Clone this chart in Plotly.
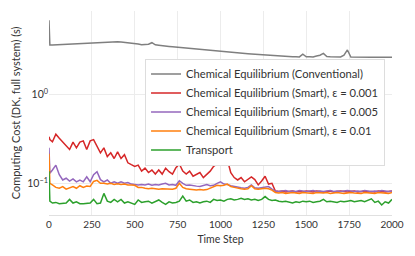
import plotly.graph_objects as go

STEPS = [0, 5, 20, 40, 60, 80, 100, 120, 140, 160, 180, 200, 220, 240, 260, 280, 300,
         320, 340, 360, 380, 400, 420, 440, 460, 480, 500, 520, 540, 560, 580, 600,
         620, 640, 660, 680, 700, 720, 740, 760, 780, 800, 820, 840, 860, 880, 900,
         920, 940, 960, 980, 1000, 1020, 1040, 1060, 1080, 1100, 1120, 1140, 1160, 1180, 1200,
         1220, 1240, 1260, 1280, 1300, 1320, 1340, 1360, 1380, 1400, 1420, 1440, 1460, 1480, 1500,
         1520, 1540, 1560, 1580, 1600, 1620, 1640, 1660, 1680, 1700, 1720, 1740, 1760, 1780, 1800,
         1820, 1840, 1860, 1880, 1900, 1920, 1940, 1960, 1980, 2000]

CONVENTIONAL = [6.8, 3.58, 3.58, 3.6, 3.62, 3.63, 3.65, 3.67, 3.68, 3.7, 3.72, 3.74, 3.75, 3.78, 3.8, 3.82, 3.84,
                3.86, 3.88, 3.9, 3.88, 3.9, 3.87, 3.84, 3.8, 3.76, 3.72, 3.68, 3.6, 3.62, 3.66, 3.8,
                3.6, 3.56, 3.5, 3.48, 3.45, 3.42, 3.39, 3.36, 3.33, 3.3, 3.27, 3.24, 3.21, 3.18, 3.15,
                3.12, 3.09, 3.06, 3.03, 3.01, 2.99, 2.97, 2.95, 2.93, 2.91, 2.89, 2.87, 2.85, 2.83, 2.81,
                2.79, 2.77, 2.75, 2.73, 2.71, 2.70, 2.69, 2.68, 2.67, 2.66, 2.65, 2.64, 2.63, 2.82, 2.64,
                2.65, 2.63, 2.7, 2.75, 2.88, 2.66, 2.64, 2.63, 2.62, 2.63, 2.75, 3.15, 2.62, 2.61, 2.6,
                2.6, 2.61, 2.6, 2.6, 2.61, 2.6, 2.6, 2.61, 2.6, 2.6]

SMART_0001 = [0.334, 0.31, 0.293, 0.356, 0.32, 0.29, 0.26, 0.24, 0.29, 0.25, 0.29, 0.30, 0.24, 0.30, 0.31, 0.26, 0.22,
              0.25, 0.20, 0.22, 0.19, 0.225, 0.19, 0.21, 0.17, 0.162, 0.155, 0.16, 0.137, 0.148, 0.132, 0.141,
              0.127, 0.141, 0.127, 0.148, 0.135, 0.127, 0.15, 0.165, 0.137, 0.127, 0.137, 0.12, 0.127, 0.132, 0.116,
              0.127, 0.137, 0.155, 0.165, 0.165, 0.175, 0.184, 0.132, 0.116, 0.109, 0.116, 0.104, 0.11, 0.118, 0.11,
              0.096, 0.106, 0.12, 0.098, 0.1, 0.082, 0.081, 0.082, 0.080, 0.081, 0.082, 0.080, 0.081, 0.080, 0.082,
              0.081, 0.080, 0.082, 0.081, 0.080, 0.081, 0.082, 0.080, 0.081, 0.082, 0.081, 0.080, 0.081, 0.082, 0.080,
              0.081, 0.082, 0.080, 0.081, 0.080, 0.082, 0.081, 0.080, 0.081, 0.082]

SMART_0005 = [0.251, 0.13, 0.141, 0.16, 0.125, 0.109, 0.114, 0.106, 0.112, 0.104, 0.109, 0.104, 0.118, 0.104, 0.125, 0.135, 0.11,
              0.104, 0.109, 0.1, 0.104, 0.1, 0.104, 0.1, 0.102, 0.098, 0.097, 0.096, 0.097, 0.096, 0.098, 0.095,
              0.097, 0.096, 0.098, 0.1, 0.096, 0.097, 0.095, 0.107, 0.1, 0.095, 0.096, 0.094, 0.093, 0.092, 0.095,
              0.097, 0.094, 0.095, 0.1, 0.104, 0.098, 0.097, 0.094, 0.092, 0.09, 0.089, 0.088, 0.09, 0.096, 0.089,
              0.088, 0.089, 0.09, 0.092, 0.086, 0.082, 0.081, 0.082, 0.083, 0.081, 0.082, 0.081, 0.083, 0.082, 0.081,
              0.082, 0.083, 0.081, 0.082, 0.081, 0.082, 0.083, 0.081, 0.082, 0.081, 0.082, 0.083, 0.082, 0.081, 0.082,
              0.081, 0.083, 0.082, 0.081, 0.082, 0.081, 0.083, 0.082, 0.081, 0.082]

SMART_001 = [0.215, 0.1, 0.096, 0.09, 0.088, 0.092, 0.086, 0.089, 0.092, 0.088, 0.094, 0.09, 0.093, 0.092, 0.105, 0.108, 0.1,
             0.1, 0.098, 0.1, 0.097, 0.099, 0.097, 0.098, 0.096, 0.096, 0.095, 0.09, 0.09, 0.088, 0.087, 0.088,
             0.087, 0.086, 0.087, 0.087, 0.086, 0.086, 0.088, 0.1, 0.09, 0.087, 0.086, 0.085, 0.084, 0.085, 0.084,
             0.085, 0.088, 0.092, 0.095, 0.094, 0.095, 0.098, 0.092, 0.09, 0.088, 0.087, 0.086, 0.087, 0.094, 0.087,
             0.086, 0.087, 0.088, 0.087, 0.084, 0.079, 0.078, 0.079, 0.077, 0.078, 0.079, 0.078, 0.077, 0.079, 0.078,
             0.078, 0.077, 0.079, 0.078, 0.078, 0.079, 0.077, 0.078, 0.079, 0.078, 0.077, 0.078, 0.079, 0.078, 0.078,
             0.077, 0.079, 0.078, 0.078, 0.077, 0.079, 0.078, 0.078, 0.077, 0.079]

TRANSPORT = [0.137, 0.063, 0.06, 0.061, 0.059, 0.06, 0.06, 0.066, 0.06, 0.062, 0.059, 0.059, 0.059, 0.06, 0.066, 0.059, 0.06,
             0.077, 0.063, 0.061, 0.066, 0.062, 0.066, 0.06, 0.062, 0.06, 0.058, 0.065, 0.061, 0.062, 0.063, 0.06,
             0.062, 0.065, 0.061, 0.058, 0.062, 0.06, 0.061, 0.063, 0.072, 0.063, 0.065, 0.061, 0.062, 0.06, 0.062,
             0.063, 0.061, 0.066, 0.064, 0.065, 0.063, 0.066, 0.067, 0.065, 0.066, 0.068, 0.066, 0.067, 0.065, 0.066,
             0.064, 0.066, 0.071, 0.066, 0.064, 0.065, 0.063, 0.062, 0.063, 0.061, 0.06, 0.062, 0.061, 0.063, 0.062,
             0.063, 0.061, 0.062, 0.063, 0.066, 0.062, 0.063, 0.062, 0.061, 0.063, 0.062, 0.063, 0.064, 0.062, 0.063,
             0.064, 0.062, 0.065, 0.067, 0.061, 0.063, 0.057, 0.062, 0.06, 0.066]

SERIES = [
    ("Chemical Equilibrium (Conventional)", CONVENTIONAL, "#7f7f7f"),
    ("Chemical Equilibrium (Smart), ε = 0.001", SMART_0001, "#d62728"),
    ("Chemical Equilibrium (Smart), ε = 0.005", SMART_0005, "#9467bd"),
    ("Chemical Equilibrium (Smart), ε = 0.01", SMART_001, "#ff7f0e"),
    ("Transport", TRANSPORT, "#2ca02c"),
]

X_TICKS = [0, 250, 500, 750, 1000, 1250, 1500, 1750, 2000]
Y_TICKS = [0.1, 1]
Y_TICK_TEXT = ["10<sup>−1</sup>", "10<sup>0</sup>"]

FONT = "Lato"

fig = go.Figure()
for name, vals, color in SERIES:
    fig.add_trace(go.Scatter(x=STEPS, y=vals, mode="lines", name=name,
                             line=dict(color=color, width=1.5)))

fig.update_layout(
    width=415, height=256,
    margin=dict(l=49, r=23, t=11, b=41),
    paper_bgcolor="white", plot_bgcolor="white",
    font=dict(family=FONT, size=10, color="#333333"),
    showlegend=True,
    legend=dict(x=0.28, y=0.767, xanchor="left", yanchor="top",
                bgcolor="white", bordercolor="#dddddd", borderwidth=1,
                font=dict(size=11.2), tracegroupgap=0, itemwidth=30),
)
fig.update_xaxes(range=[0, 2000], tickvals=X_TICKS, showgrid=True, gridcolor="#ececec",
                 zeroline=False, showline=True, linecolor="#e0e0e0", linewidth=1,
                 ticks="", automargin=False,
                 title=dict(text="Time Step", font=dict(size=10.5), standoff=6),
                 tickfont=dict(size=10))
fig.update_yaxes(type="log", range=[-1.356, 0.936], tickvals=Y_TICKS, ticktext=Y_TICK_TEXT,
                 showgrid=True, gridcolor="#ececec", zeroline=False, showline=False, ticks="",
                 automargin=False,
                 title=dict(text="Computing Cost (DK, full system) (s)", font=dict(size=11), standoff=4),
                 tickfont=dict(size=10.5))

fig.write_html("out.html", config={"displayModeBar": False},
               post_script="document.body.style.margin='0';document.body.style.overflow='hidden';")
